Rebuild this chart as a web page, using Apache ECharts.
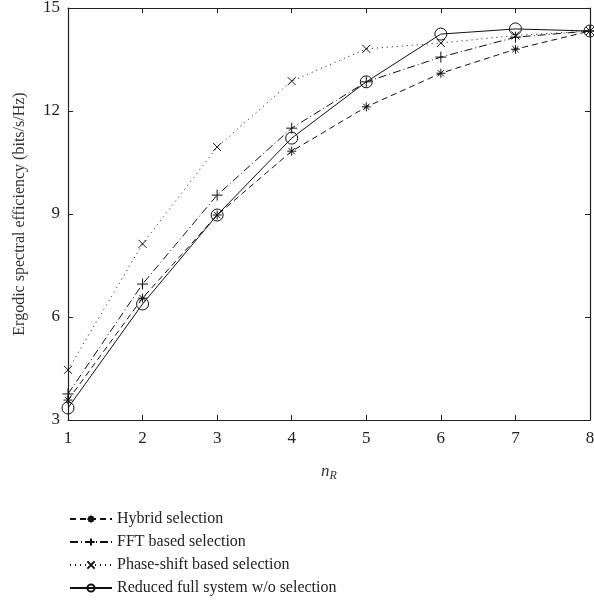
<!DOCTYPE html>
<html>
<head>
<meta charset="utf-8">
<script src="https://cdn.jsdelivr.net/npm/echarts@6/dist/echarts.min.js"></script>
<style>
  html, body { margin: 0; padding: 0; background: #fff; }
  #chart { width: 594px; height: 613px; }
</style>
</head>
<body>
<div id="chart"></div>
<script>
// n_R values
var nR = [1, 2, 3, 4, 5, 6, 7, 8]
var hybrid = [3.58, 6.55, 8.97, 10.83, 12.12, 13.1, 13.8, 14.33]
var fft = [3.76, 6.96, 9.55, 11.5, 12.85, 13.57, 14.15, 14.33]
var phaseShift = [4.46, 8.13, 10.95, 12.87, 13.81, 13.98, 14.2, 14.33]
var reduced = [3.35, 6.38, 8.97, 11.21, 12.85, 14.24, 14.39, 14.33]
var yTicks = [3, 6, 9, 12, 15]

var names = [
  'Hybrid selection',
  'FFT based selection',
  'Phase-shift based selection',
  'Reduced full system w/o selection',
]

var FONT = '"Liberation Serif", "DejaVu Serif", serif'

function pairs(ys) {
  return nR.map(function (x, i) { return [x, ys[i]] })
}

// symbols drawn as stroked paths
var asterisk = 'path://M5,0L5,10M0,5L10,5M1.5,1.5L8.5,8.5M8.5,1.5L1.5,8.5'
var plus = 'path://M5,0L5,10M0,5L10,5'
var cross = 'path://M0,0L10,10M10,0L0,10'

function makeSeries(name, data, dash, symbol, size) {
  return {
    name: name,
    type: 'line',
    data: pairs(data),
    symbol: symbol,
    symbolSize: size,
    showAllSymbol: true,
    silent: true,
    animation: false,
    lineStyle: { color: '#111', width: 1, type: dash },
    itemStyle: { color: 'transparent', borderColor: '#111', borderWidth: 1 },
    z: 3,
  }
}

var chart = echarts.init(document.getElementById('chart'))

var axisCommon = {
  axisLine: { show: true, lineStyle: { color: '#222', width: 1.2 } },
  axisTick: { show: true, inside: true, length: 5, lineStyle: { color: '#222' } },
  splitLine: { show: false },
}

var option = {
  backgroundColor: '#fff',
  animation: false,
  grid: { left: 68, right: 4, top: 8, bottom: 193, outerBoundsMode: 'none', containLabel: false },
  legend: {
    orient: 'vertical',
    left: 64,
    top: 506,
    itemWidth: 42,
    itemHeight: 9,
    itemGap: 7,
    data: names,
    textStyle: { fontFamily: FONT, fontSize: 16, color: '#222' },
  },
  xAxis: [
    Object.assign({
      type: 'value',
      min: 1,
      max: 8,
      interval: 1,
      name: '{i|n}{s|R}',
      nameLocation: 'middle',
      nameGap: 42,
      nameTextStyle: {
        rich: {
          i: { fontFamily: FONT, fontStyle: 'italic', fontSize: 17, color: '#333' },
          s: { fontFamily: FONT, fontStyle: 'italic', fontSize: 12, color: '#333', verticalAlign: 'bottom', padding: [8, 0, 0, 0] },
        },
      },
      axisLabel: { fontFamily: FONT, fontSize: 17, color: '#222', margin: 10 },
    }, axisCommon),
    Object.assign({
      type: 'value',
      position: 'top',
      min: 1,
      max: 8,
      interval: 1,
      axisLabel: { show: false },
    }, axisCommon),
  ],
  yAxis: [
    Object.assign({
      type: 'value',
      min: yTicks[0],
      max: yTicks[yTicks.length - 1],
      interval: 3,
      name: 'Ergodic spectral efficiency (bits/s/Hz)',
      nameLocation: 'middle',
      nameGap: 40,
      nameTextStyle: { fontFamily: FONT, fontSize: 16, color: '#333' },
      axisLabel: { fontFamily: FONT, fontSize: 17, color: '#222', margin: 8 },
    }, axisCommon),
    Object.assign({
      type: 'value',
      position: 'right',
      min: yTicks[0],
      max: yTicks[yTicks.length - 1],
      interval: 3,
      axisLabel: { show: false },
    }, axisCommon),
  ],
  series: [
    makeSeries(names[0], hybrid, [6, 4], asterisk, 9),
    makeSeries(names[1], fft, [8, 3, 1, 3], plus, 11),
    makeSeries(names[2], phaseShift, [1, 4], cross, 8),
    makeSeries(names[3], reduced, 'solid', 'circle', 12),
  ],
}

chart.setOption(option)
</script>
</body>
</html>
